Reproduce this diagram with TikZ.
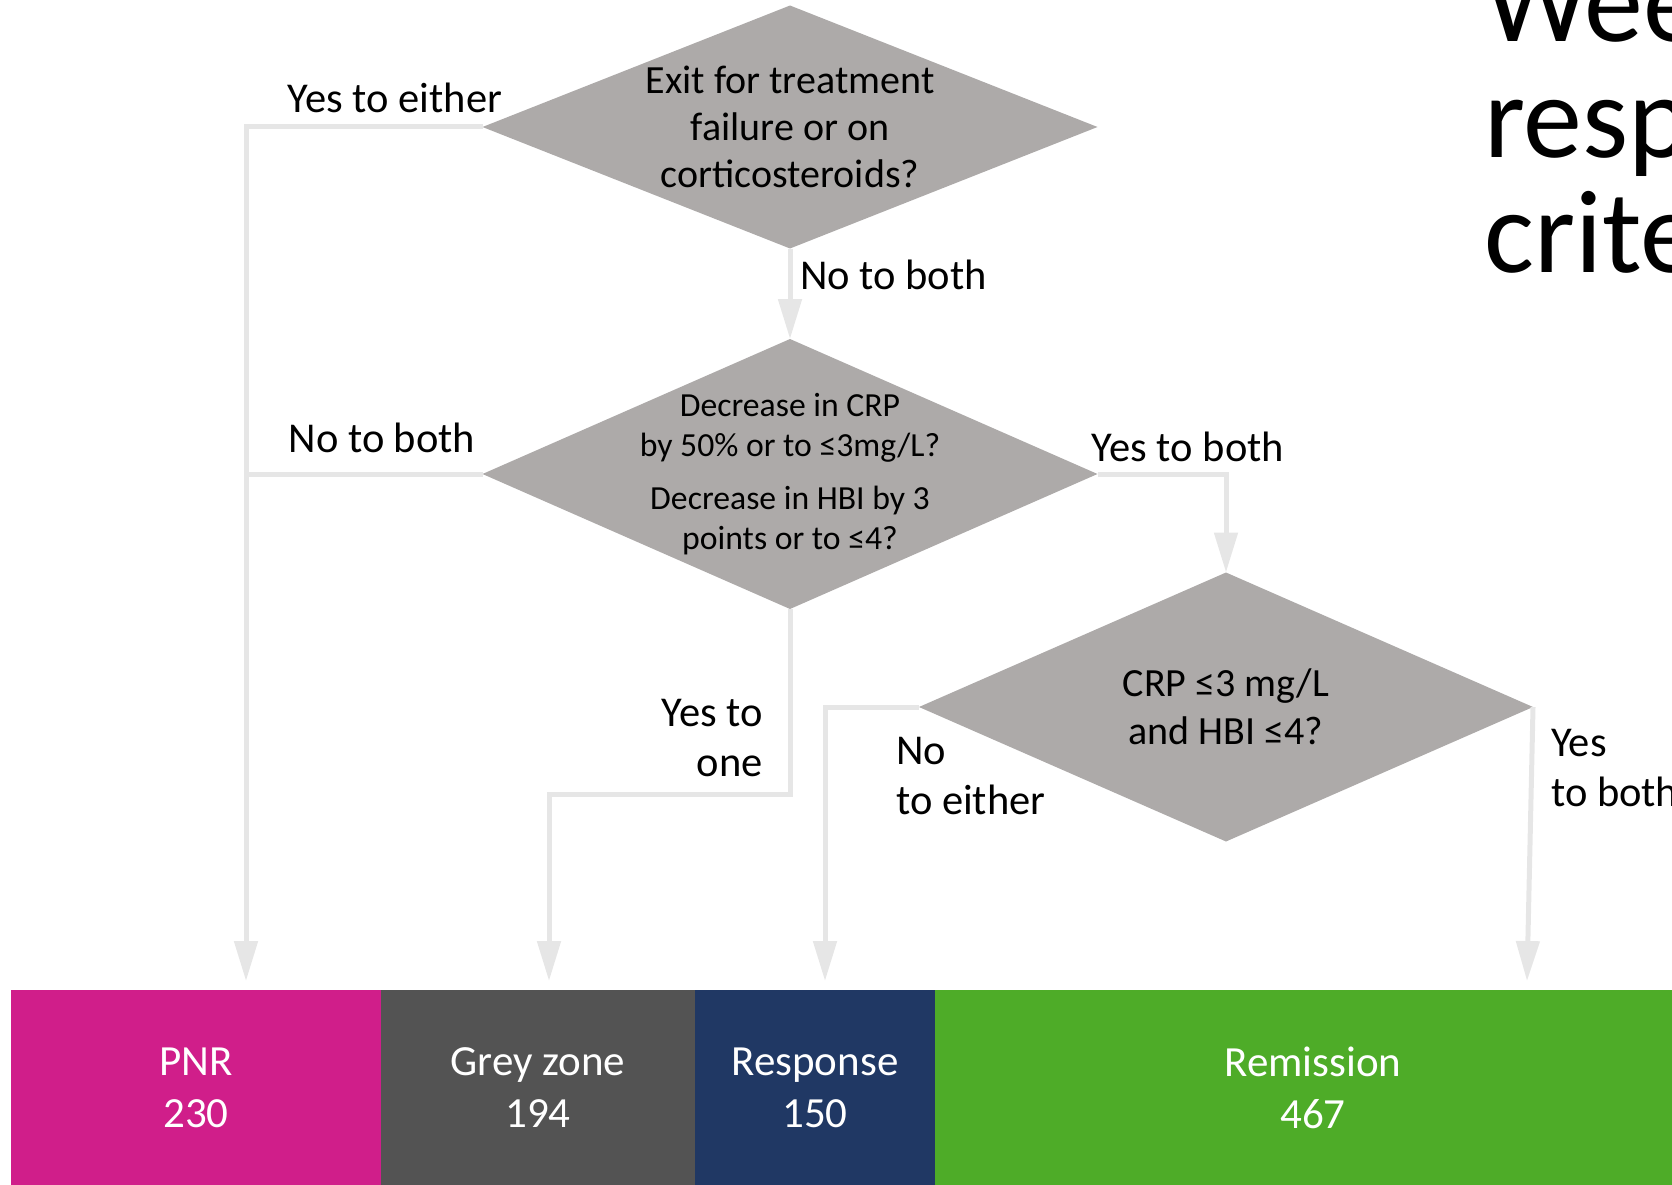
\documentclass[tikz,border=0pt]{standalone}
\usepackage{fontspec}
\setmainfont{Carlito}
\usetikzlibrary{shapes.geometric,arrows.meta}
\definecolor{diagrey}{HTML}{ADAAA9}
\definecolor{flowgrey}{HTML}{E6E6E6}
\definecolor{pnrmag}{HTML}{D01E8A}
\definecolor{zonegrey}{HTML}{535353}
\definecolor{respnavy}{HTML}{203864}
\definecolor{remgreen}{HTML}{4EAC28}

\begin{document}
\begin{tikzpicture}[x=1pt,y=-1pt,
    decision/.style={diamond, fill=diagrey, inner sep=0pt, outer sep=0pt},
    qtext/.style={align=center, inner sep=0pt, font=\fontsize{40}{47}\selectfont},
    flow/.style={draw=flowgrey, line width=5pt, -{Triangle[width=23pt,length=40pt]}},
    lbl/.style={inner sep=0pt, font=\fontsize{42.5}{50}\selectfont},
    band/.style={minimum height=195pt, inner sep=0pt, outer sep=0pt, text=white, align=center, font=\fontsize{43}{52}\selectfont}]
        \useasboundingbox (0,0) rectangle (1672,1185);

        % decisions
        \node[decision, minimum width=615pt, minimum height=243pt] (exit) at (790,127) {};
        \node[decision, minimum width=615pt, minimum height=270pt] (drop) at (790,474) {};
        \node[decision, minimum width=614pt, minimum height=269pt] (remit) at (1226,707) {};

        \node[qtext] (exitq) at (exit) {Exit for treatment\\failure or on\\corticosteroids?};
        \node[qtext, font=\fontsize{33.7}{40.5}\selectfont] (dropq) at (drop) {Decrease in CRP\\by 50\% or to ≤3mg/L?\\[12pt]Decrease in HBI by 3\\points or to ≤4?};
        \node[qtext, font=\fontsize{40}{48}\selectfont] (remitq) at (remit) {CRP ≤3 mg/L\\and HBI ≤4?};

        % outcomes
        \node[band, fill=pnrmag, minimum width=370pt] (pnr) at (196,1087.5) {PNR\\230};
        \node[band, fill=zonegrey, minimum width=314pt] (grey) at (538,1087.5) {Grey zone\\194};
        \node[band, fill=respnavy, minimum width=240pt] (resp) at (815,1087.5) {Response\\150};
        \node[band, fill=remgreen, minimum width=756pt] (rem) at (1313,1087.5) {Remission\\467};

        \coordinate (pnrin) at (246,981);
        \coordinate (greyin) at (549,981);
        \coordinate (respin) at (825,981);
        \coordinate (remin) at (1527,981);
        \coordinate (onebend) at (790,794);

        \draw[flow] (exit.west) -| (pnrin);
        \draw[flow, -] (drop.west) -- (drop.west -| pnrin);
        \draw[flow] (exit.south) -- (drop.north);
        \draw[flow] (drop.east) -| (remit.north);
        \draw[flow] (drop.south) -- (onebend) -| (greyin);
        \draw[flow] (remit.west) -| (respin);
        \draw[flow] (remit.east) -- (remin);

        % labels
        \node[lbl] (yeseither) at (395,98) {Yes to either};
        \node[lbl, anchor=west] (nobothtop) at (800,275) {No to both};
        \node[lbl] (nobothmid) at (382,438) {No to both};
        \node[lbl] (yesboth) at (1188,447) {Yes to both};
        \node[lbl, align=right, anchor=east] (yesone) at (763,738) {Yes to\\one};
        \node[lbl, align=left, anchor=west] (noeither) at (896,776) {No\\to either};
        \node[lbl, align=left, anchor=west] (yesbothr) at (1551,768) {Yes\\to both};

        \node[anchor=base west, align=left, inner sep=0pt, font=\fontsize{118}{115}\selectfont] (title) at (1484,272) {Week\\response\\criteria};
    \end{tikzpicture}
\end{document}
